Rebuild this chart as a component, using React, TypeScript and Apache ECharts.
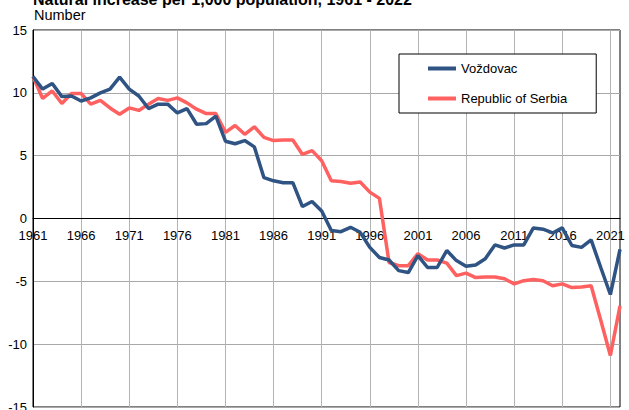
import React, { useEffect, useRef } from "react";
import * as echarts from "echarts";

const years: string[] = [];
for (let y = 1961; y <= 2022; y++) years.push(String(y));

const vozdovac = [
  11.3, 10.3, 10.75, 9.7, 9.75, 9.35, 9.6, 10.0, 10.3, 11.25,
  10.3, 9.75, 8.75, 9.1, 9.1, 8.4, 8.75, 7.5, 7.55, 8.15,
  6.15, 5.95, 6.2, 5.7, 3.25, 3.0, 2.85, 2.85, 0.95, 1.35,
  0.6, -0.95, -1.05, -0.7, -1.1, -2.3, -3.1, -3.3, -4.15, -4.3,
  -2.95, -3.9, -3.9, -2.55, -3.35, -3.8, -3.7, -3.2, -2.1, -2.35,
  -2.1, -2.1, -0.75, -0.85, -1.15, -0.75, -2.15, -2.3, -1.7, -3.9,
  -6.05, -2.45,
];

const serbia = [
  11.3, 9.55, 10.15, 9.15, 9.95, 9.95, 9.1, 9.4, 8.8, 8.3,
  8.8, 8.6, 9.1, 9.55, 9.4, 9.6, 9.2, 8.7, 8.35, 8.35,
  6.85, 7.4, 6.7, 7.3, 6.45, 6.2, 6.25, 6.25, 5.1, 5.4,
  4.6, 3.0, 2.95, 2.8, 2.9, 2.1, 1.6, -3.5, -3.75, -3.75,
  -2.8, -3.3, -3.3, -3.55, -4.55, -4.35, -4.7, -4.65, -4.65, -4.8,
  -5.2, -4.95, -4.85, -4.95, -5.35, -5.2, -5.5, -5.45, -5.35, -8.1,
  -10.9, -6.95,
];

const seriesNames = ["Voždovac", "Republic of Serbia"];
const colors = ["#2F5383", "#FF6060"];
const FONT = "'Liberation Sans', Arial, sans-serif";

const GRID_TOP = 30;
const GRID_BOTTOM = 3;
const HEIGHT = 410;
const Y_MIN = -15;
const Y_MAX = 15;

export default function App() {
  const ref = useRef<HTMLDivElement>(null);
  useEffect(() => {
    if (!ref.current) return;
    const chart = echarts.init(ref.current, undefined, { renderer: "svg" });
    const gridH = HEIGHT - GRID_TOP - GRID_BOTTOM;
    const zeroOffset = -gridH * (0 - Y_MIN) / (Y_MAX - Y_MIN);
    chart.setOption({
      animation: false,
      backgroundColor: "#fff",
      title: {
        text: "Natural increase per 1,000 population, 1961 - 2022",
        left: 28,
        top: -14,
        textStyle: { fontSize: 16, fontWeight: "bold", color: "#000", fontFamily: FONT },
      },
      graphic: [
        {
          type: "text",
          x: 34,
          y: 15,
          style: {
            text: "Number",
            fontSize: 14.5,
            fontFamily: FONT,
            fill: "#000",
            verticalAlign: "middle",
          },
        },
      ],
      legend: {
        orient: "vertical",
        left: 399,
        top: 54,
        padding: [8, 29, 8, 29],
        itemGap: 17,
        itemWidth: 28,
        itemHeight: 4,
        icon: "rect",
        borderColor: "#000",
        borderWidth: 1,
        backgroundColor: "#fff",
        textStyle: { fontSize: 13, fontFamily: FONT, color: "#000" },
        data: seriesNames,
      },
      grid: {
        left: 33,
        right: 9,
        top: GRID_TOP,
        bottom: GRID_BOTTOM,
        show: true,
        borderColor: "#000",
        borderWidth: 1,
        containLabel: false,
        outerBoundsMode: "none",
      },
      xAxis: {
        type: "category",
        data: years,
        boundaryGap: false,
        position: "bottom",
        offset: zeroOffset,
        axisLine: { onZero: false, lineStyle: { color: "#000", width: 1 } },
        axisTick: { show: false },
        axisLabel: {
          interval: 4,
          fontSize: 13,
          fontFamily: FONT,
          color: "#000",
          margin: 10,
        },
        splitLine: { show: true, interval: 4, lineStyle: { color: "#b4b4b4", width: 1 } },
      },
      yAxis: {
        type: "value",
        min: Y_MIN,
        max: Y_MAX,
        interval: 5,
        axisLine: { show: true, lineStyle: { color: "#000", width: 1 } },
        axisTick: { show: false },
        axisLabel: { fontSize: 13, fontFamily: FONT, color: "#000", margin: 6 },
        splitLine: { show: true, lineStyle: { color: "#a8a8a8", width: 1 } },
      },
      series: [
        {
          name: seriesNames[0],
          type: "line",
          data: vozdovac,
          symbol: "none",
          color: colors[0],
          lineStyle: { width: 3.5, color: colors[0] },
          z: 3,
        },
        {
          name: seriesNames[1],
          type: "line",
          data: serbia,
          symbol: "none",
          color: colors[1],
          lineStyle: { width: 3.5, color: colors[1] },
          z: 2,
        },
      ],
    });
    return () => chart.dispose();
  }, []);
  return (
    <div
      ref={ref}
      style={{ position: "fixed", left: 0, top: 0, width: 629, height: 410 }}
    />
  );
}
